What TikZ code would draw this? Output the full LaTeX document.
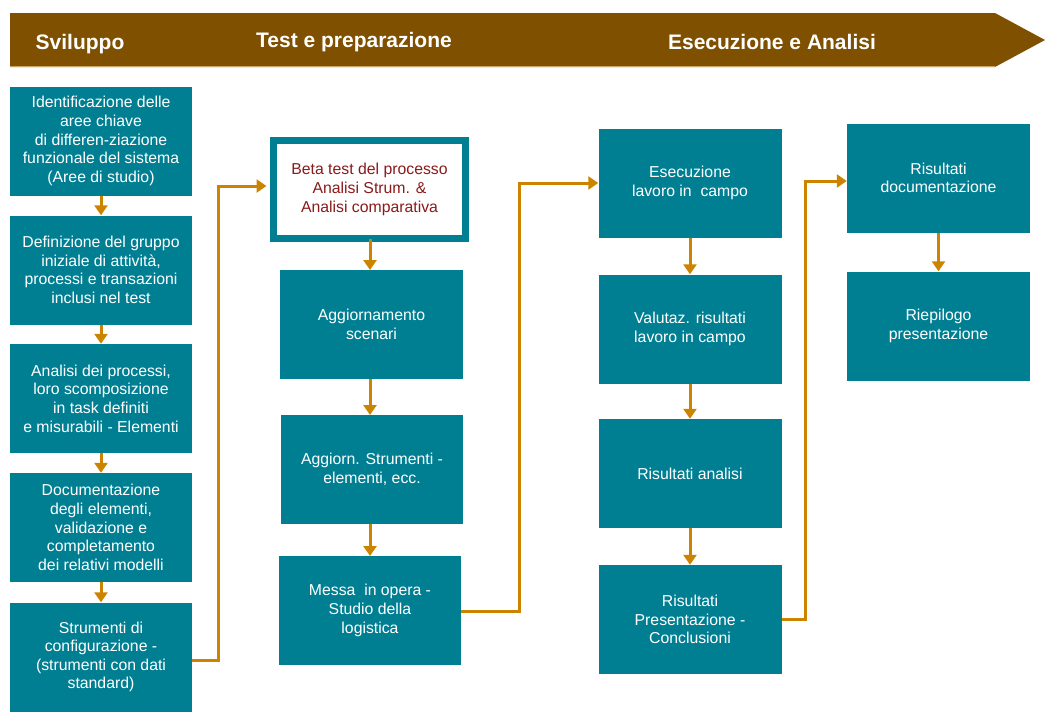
\documentclass[tikz,border=0pt]{standalone}
\usepackage{fontspec}
\setmainfont{Liberation Sans}
\usetikzlibrary{arrows.meta}
\definecolor{teal1}{HTML}{007F93}
\definecolor{orng}{HTML}{CC8400}
\definecolor{brwn}{HTML}{7F5000}
\definecolor{tan1}{HTML}{C8A46A}
\definecolor{dred}{HTML}{8B1A1A}
\tikzset{
  box/.style={fill=teal1, text=white, align=center, inner sep=0pt,
    minimum width=183pt, minimum height=109pt,
    font=\fontsize{15.8}{18.6}\selectfont},
  hibox/.style={draw=teal1, line width=7pt, fill=white, text=dred, align=center,
    inner sep=0pt, minimum width=192pt, minimum height=98pt,
    font=\fontsize{15.8}{18.6}\selectfont},
  conn/.style={draw=orng, line width=3pt, -{Triangle[width=13pt,length=10pt]}},
  phase/.style={text=white, font=\fontsize{21}{24}\selectfont\bfseries, inner sep=0pt}
}
\begin{document}
\begin{tikzpicture}[x=1pt,y=-1pt]
\useasboundingbox (0,0) rectangle (1045,713);
% banner
\fill[brwn] (10,13) -- (995,13) -- (1045,40) -- (995,67) -- (10,67) -- cycle;
\draw[tan1, line width=1pt] (10,66.5) -- (995,66.5);
\node[phase] (ph1) at (80,44) {Sviluppo};
\node[phase] (ph2) at (354,42) {Test e preparazione};
\node[phase] (ph3) at (772,42) {Esecuzione e Analisi};
% column 1
\node[box, minimum width=182pt] (a1) at (101,141) {Identificazione delle\\aree chiave\\di differen-ziazione\\funzionale del sistema\\(Aree di studio)};
\node[box, minimum width=182pt] (a2) at (101,270) {Definizione del gruppo\\iniziale di attività,\\processi e transazioni\\inclusi nel test};
\node[box, minimum width=182pt] (a3) at (101,398.5) {Analisi dei processi,\\loro scomposizione\\in task definiti\\e misurabili - Elementi};
\node[box, minimum width=182pt] (a4) at (101,527.5) {Documentazione\\degli elementi,\\validazione e\\completamento\\dei relativi modelli};
\node[box, minimum width=182pt] (a5) at (101,657) {Strumenti di\\configurazione -\\(strumenti con dati\\standard)};
% column 2
\node[hibox] (b1) at (369.5,189.5) {Beta test del processo\\Analisi Strum. \&\\Analisi comparativa};
\node[box] (b2) at (371.5,324.5) {Aggiornamento\\scenari};
\node[box, minimum width=182pt] (b3) at (372,469.5) {Aggiorn. Strumenti -\\elementi, ecc.};
\node[box, minimum width=182pt] (b4) at (370,610.5) {Messa~ in opera -\\Studio della\\logistica};
% column 3
\node[box] (c1) at (690,183) {Esecuzione\\lavoro in~ campo};
\node[box] (c2) at (690,329) {Valutaz. risultati\\lavoro in campo};
\node[box] (c3) at (690,473.5) {Risultati analisi};
\node[box] (c4) at (690,619.5) {Risultati\\Presentazione -\\Conclusioni};
% column 4
\node[box] (d1) at (938.5,178) {Risultati\\documentazione};
\node[box] (d2) at (938.5,326) {Riepilogo\\presentazione};
% connectors
\draw[conn] (a1.south) -- (a2.north);
\draw[conn] (a2.south) -- (a3.north);
\draw[conn] (a3.south) -- (a4.north);
\draw[conn] (a4.south) -- (a5.north);
\draw[conn] (a5.east |- 0,660) -- (218,660) -- (218,186) -- ([xshift=-3.5pt]b1.west |- 0,186);
\draw[conn] ([yshift=3.5pt]b1.south -| 0,0) ++(370,0) -- (370,270);
\draw[conn] (370,379) -- (370,415);
\draw[conn] (370,524) -- (370,556);
\draw[conn] (b4.east |- 0,611) -- (519,611) |- (c1.west);
\draw[conn] (c1.south) -- (c2.north);
\draw[conn] (c2.south) -- (c3.north);
\draw[conn] (c3.south) -- (c4.north);
\draw[conn] (c4.east |- 0,619) -- (805,619) -- (805,181) -- (d1.west |- 0,181);
\draw[conn] (d1.south) -- (d2.north);
\end{tikzpicture}
\end{document}
